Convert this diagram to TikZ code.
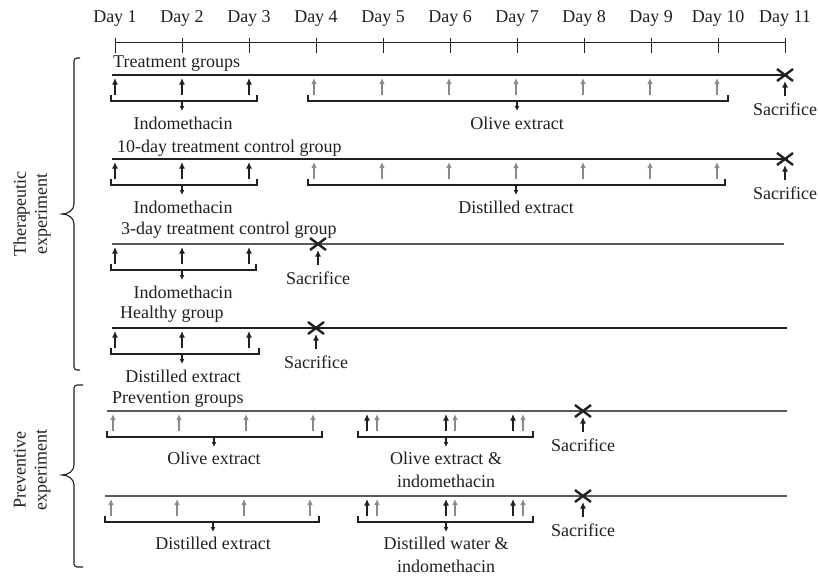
\documentclass[tikz,border=0pt]{standalone}
\usepackage{fontspec}
\setmainfont{Liberation Serif}
\usetikzlibrary{arrows.meta}
\definecolor{ink}{HTML}{231F20}
\definecolor{dosegray}{HTML}{8A8A8A}
\definecolor{linegray}{HTML}{5A5A5A}
\begin{document}
\begin{tikzpicture}[x=1pt,y=-1pt,
  txt/.style={inner sep=0pt, text=ink, font=\fontsize{18}{21}\selectfont},
  lbl/.style={txt, anchor=base},
  ttl/.style={txt, anchor=base west},
  axisline/.style={draw=ink, line width=1pt},
  rowline/.style={draw=ink, line width=1.4pt},
  rowlinegray/.style={draw=linegray, line width=1.4pt},
  blk/.style={draw=ink, line width=1.4pt, -{Latex[length=6.5pt,width=6pt]}},
  gry/.style={draw=dosegray, line width=1.1pt, -{Latex[length=6pt,width=5.5pt]}},
  brk/.style={draw=ink, line width=1.2pt},
  downarr/.style={draw=ink, line width=1.1pt, -{Latex[length=5pt,width=5pt]}},
  xmark/.style={draw=ink, line width=2.4pt},
  bracepath/.style={draw=ink, line width=1.1pt}
]
\useasboundingbox (0,0) rectangle (818,582);

% ---- time axis ----
\coordinate (a0) at (115,42);
\coordinate (a1) at (785,42);
\draw[axisline] (a0) -- (a1);
\foreach \i in {1,...,11}{
  \coordinate (t\i) at ({115+67*(\i-1)},42);
  \draw[axisline] ([yshift=-11pt]t\i) -- ([yshift=4pt]t\i);
  \node[lbl] (d\i) at ({115+67*(\i-1)},22) {Day \i};
}

% ---- helpers ----
\newcommand\doseA[3]{\draw[#3] (#1,#2+20) -- (#1,#2+3);}
\newcommand\brkt[4]{% x1 x2 xmid L
  \coordinate (b1) at (#1,#4+20); \coordinate (b2) at (#1,#4+26);
  \coordinate (b3) at (#2,#4+26); \coordinate (b4) at (#2,#4+20);
  \draw[brk] (b1) -- (b2) -- (b3) -- (b4);
  \coordinate (m1) at (#3,#4+26); \coordinate (m2) at (#3,#4+36);
  \draw[downarr] (m1) -- (m2);}
\newcommand\sacr[2]{% x L
  \coordinate (c1) at (#1-8,#2-6); \coordinate (c2) at (#1+8,#2+6);
  \coordinate (c3) at (#1-8,#2+6); \coordinate (c4) at (#1+8,#2-6);
  \draw[xmark] (c1) -- (c2) (c3) -- (c4);
  \coordinate (s1) at (#1,#2+21); \coordinate (s2) at (#1,#2+6);
  \draw[blk] (s1) -- (s2);
  \node[lbl] at (#1,#2+40) {Sacrifice};}

% ---- Row 1: Treatment groups (L=75) ----
\node[ttl] (r1t) at (113,67) {Treatment groups};
\coordinate (r1a) at (112,75); \coordinate (r1b) at (788,75);
\draw[rowline] (r1a) -- (r1b);
\foreach \x in {115,182,249}{\doseA{\x}{75}{blk}}
\foreach \x in {314,382,449,516,583,650,717}{\doseA{\x}{75}{gry}}
\brkt{111}{257}{182}{75}
\node[lbl] (r1l1) at (183,129) {Indomethacin};
\brkt{308}{728}{517}{75}
\node[lbl] (r1l2) at (517,129) {Olive extract};
\sacr{785}{75}

% ---- Row 2: 10-day control (L=159) ----
\node[ttl] (r2t) at (117,152) {10-day treatment control group};
\coordinate (r2a) at (112,159); \coordinate (r2b) at (788,159);
\draw[rowline] (r2a) -- (r2b);
\foreach \x in {115,182,249}{\doseA{\x}{159}{blk}}
\foreach \x in {314,382,449,516,583,650,717}{\doseA{\x}{159}{gry}}
\brkt{111}{257}{182}{159}
\node[lbl] (r2l1) at (183,213) {Indomethacin};
\brkt{308}{725}{516}{159}
\node[lbl] (r2l2) at (516,213) {Distilled extract};
\sacr{785}{159}

% ---- Row 3: 3-day control (L=244) ----
\node[ttl] (r3t) at (121,234) {3-day treatment control group};
\coordinate (r3a) at (112,244); \coordinate (r3b) at (784,244);
\draw[rowlinegray] (r3a) -- (r3b);
\foreach \x in {115,182,249}{\doseA{\x}{244}{blk}}
\brkt{111}{256}{182}{244}
\node[lbl] (r3l1) at (183,298) {Indomethacin};
\sacr{318}{244}

% ---- Row 4: Healthy group (L=328) ----
\node[ttl] (r4t) at (120,318) {Healthy group};
\coordinate (r4a) at (112,328); \coordinate (r4b) at (787,328);
\draw[rowline] (r4a) -- (r4b);
\foreach \x in {115,182,249}{\doseA{\x}{328}{blk}}
\brkt{111}{259}{182}{328}
\node[lbl] (r4l1) at (183,382) {Distilled extract};
\sacr{316}{328}

% ---- Row 5: Prevention groups (L=411) ----
\node[ttl] (r5t) at (112,403) {Prevention groups};
\coordinate (r5a) at (107,411); \coordinate (r5b) at (787,411);
\draw[rowlinegray] (r5a) -- (r5b);
\foreach \x in {113,179,246,313}{\doseA{\x}{411}{gry}}
\foreach \x in {367,446,513}{\doseA{\x}{411}{blk}}
\foreach \x in {377,455,523}{\doseA{\x}{411}{gry}}
\brkt{107}{322}{214}{411}
\node[lbl] (r5l1) at (214,464) {Olive extract};
\brkt{358}{533}{446}{411}
\node[lbl] (r5l2) at (446,464) {Olive extract \&};
\node[lbl] (r5l3) at (446,487) {indomethacin};
\sacr{583}{411}

% ---- Row 6 (L=496) ----
\coordinate (r6a) at (105,496); \coordinate (r6b) at (787,496);
\draw[rowlinegray] (r6a) -- (r6b);
\foreach \x in {111,177,244,310}{\doseA{\x}{496}{gry}}
\foreach \x in {367,446,513}{\doseA{\x}{496}{blk}}
\foreach \x in {377,455,523}{\doseA{\x}{496}{gry}}
\brkt{105}{319}{213}{496}
\node[lbl] (r6l1) at (213,549) {Distilled extract};
\brkt{358}{533}{446}{496}
\node[lbl] (r6l2) at (446,549) {Distilled water \&};
\node[lbl] (r6l3) at (446,572) {indomethacin};
\sacr{583}{496}

% ---- braces and side labels ----
\draw[bracepath] (80,58) -- (77,58) to[out=180,in=90] (74,61) -- (74,204)
  to[out=-90,in=0] (62,214) to[out=0,in=90] (74,224) -- (74,367)
  to[out=-90,in=180] (77,370) -- (80,370);
\node[txt, rotate=90, align=center] (ther) at (32,214) {Therapeutic\\experiment};
\draw[bracepath] (83,385) -- (77,385) to[out=180,in=90] (74,388) -- (74,465)
  to[out=-90,in=0] (62,475) to[out=0,in=90] (74,485) -- (74,564)
  to[out=-90,in=180] (77,567) -- (83,567);
\node[txt, rotate=90, align=center] (prev) at (32,470) {Preventive\\experiment};
\end{tikzpicture}
\end{document}
